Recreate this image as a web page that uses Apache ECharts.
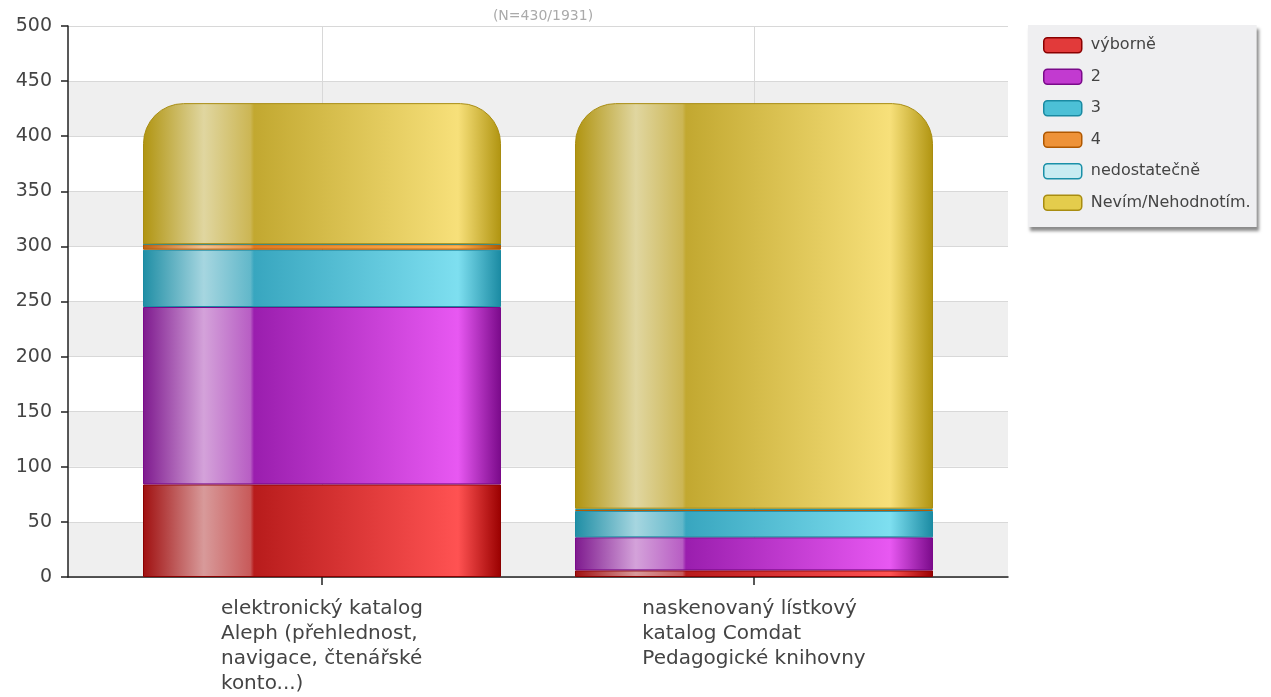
<!DOCTYPE html>
<html>
<head>
<meta charset="utf-8">
<script src="https://cdn.jsdelivr.net/npm/echarts@6/dist/echarts.min.js"></script>
<style>html,body{margin:0;padding:0;background:#fff}#c{width:1271px;height:697px}</style>
</head>
<body>
<div id="c"></div>
<script>
const categories = [
  ['elektronický katalog', 'Aleph (přehlednost,', 'navigace, čtenářské', 'konto...)'],
  ['naskenovaný lístkový', 'katalog Comdat', 'Pedagogické knihovny']
];
const seriesNames = ['výborně', '2', '3', '4', 'nedostatečně', 'Nevím/Nehodnotím.'];
const vyborne = [84, 6];
const dva = [161, 30];
const tri = [52, 24];
const ctyri = [5, 1];
const nedostatecne = [0, 1];
const nevim = [128, 368];
const yTicks = [0, 50, 100, 150, 200, 250, 300, 350, 400, 450, 500];
const subtitle = '(N=430/1931)';

function grad(stops) {
  return { type: 'linear', x: 0, y: 0, x2: 1, y2: 0,
    colorStops: stops.map(s => ({ offset: s[0], color: s[1] })) };
}
const styles = [
  { fill: grad([[0,'#a01010'],[0.17,'#d89a9a'],[0.3,'#c85a5a'],[0.31,'#b81c1c'],[0.88,'#ff5252'],[1,'#9a0000']]), border: '#8a0000', legend: '#e23a3a' },
  { fill: grad([[0,'#7e1a8e'],[0.17,'#d4a2da'],[0.3,'#b85ec4'],[0.31,'#9a1eae'],[0.88,'#e858f2'],[1,'#7a0a8a']]), border: '#7a0a8a', legend: '#c23ad0' },
  { fill: grad([[0,'#1f8ea5'],[0.17,'#a6d6e0'],[0.3,'#62b8ca'],[0.31,'#38a6bf'],[0.88,'#7edff0'],[1,'#1a8aa2']]), border: '#1a8aa2', legend: '#4cc0d6' },
  { fill: grad([[0,'#c06010'],[0.17,'#f0c090'],[0.3,'#e8954a'],[0.31,'#e07820'],[0.88,'#ffb050'],[1,'#b05800']]), border: '#b05800', legend: '#ee9238' },
  { fill: grad([[0,'#1a90a8'],[0.17,'#d8f0f4'],[0.31,'#a8dce8'],[0.88,'#e8fafc'],[1,'#1a90a8']]), border: '#1a90a8', legend: '#c8ecf2' },
  { fill: grad([[0,'#b09410'],[0.17,'#e0d6a0'],[0.3,'#ccb654'],[0.31,'#c2a830'],[0.88,'#f7e07a'],[1,'#b09410']]), border: '#a88c10', legend: '#e4cc4c' }
];
const values = [vyborne, dva, tri, ctyri, nedostatecne, nevim];

const FONT = 'DejaVu Sans';
const chart = echarts.init(document.getElementById('c'), null, { renderer: 'canvas' });
chart.setOption({
  animation: false,
  backgroundColor: '#ffffff',
  title: {
    text: subtitle, left: 538, top: 4, textAlign: 'center',
    textStyle: { fontFamily: FONT, fontSize: 14, fontWeight: 'normal', color: '#aaaaaa' }
  },
  legend: {
    orient: 'vertical', left: 1028, top: 25,
    padding: [12, 6, 16, 15], itemGap: 15, itemWidth: 38, itemHeight: 15,
    icon: 'roundRect',
    backgroundColor: '#efeff1',
    shadowColor: 'rgba(0,0,0,0.45)', shadowBlur: 3, shadowOffsetX: 2, shadowOffsetY: 4,
    textStyle: { fontFamily: FONT, fontSize: 16, lineHeight: 15, color: '#444', padding: [0, 0, 0, 4] },
    data: seriesNames.map((n, i) => ({ name: n, itemStyle: { color: styles[i].legend, borderColor: styles[i].border, borderWidth: 1.5 } }))
  },
  grid: [
    { left: 68, right: 263, top: 26, bottom: 120, containLabel: false },
    { left: 106, right: 301, top: 26, bottom: 120, containLabel: false }
  ],
  xAxis: [
    {
      gridIndex: 0, type: 'value', min: 0, max: 1,
      axisLine: { show: true, onZero: false, lineStyle: { color: '#222', width: 1.5 } },
      axisTick: { show: false }, axisLabel: { show: false }, splitLine: { show: false }
    },
    {
      gridIndex: 1, type: 'category',
      data: categories.map(c => c.join('\n')),
      axisLine: { show: false },
      axisTick: { show: true, alignWithLabel: true, length: 8, lineStyle: { color: '#222', width: 1.5 } },
      splitLine: { show: true, alignWithLabel: true, lineStyle: { color: '#d8d8d8' } },
      axisLabel: {
        margin: 19,
        formatter: v => v.split('\n').map(l => '{a|' + l + '}').join('\n'),
        rich: { a: { fontFamily: FONT, fontSize: 20, color: '#444', lineHeight: 25, align: 'left' } }
      }
    }
  ],
  yAxis: [
    {
      gridIndex: 0, type: 'value', min: 0, max: 500, interval: 50,
      axisLine: { show: true, lineStyle: { color: '#222', width: 1.5 } },
      axisTick: { show: true, length: 7, lineStyle: { color: '#222', width: 1.5 } },
      splitLine: { lineStyle: { color: '#d8d8d8' } },
      splitArea: { show: true, areaStyle: { color: ['#efefef', '#ffffff'] } },
      axisLabel: {
        margin: 16, fontFamily: FONT, fontSize: 19, color: '#444',
        formatter: v => yTicks.includes(v) ? String(v) : ''
      }
    },
    {
      gridIndex: 1, type: 'value', min: 0, max: 500, interval: 50,
      axisLine: { show: false }, axisTick: { show: false }, axisLabel: { show: false },
      splitLine: { show: false }
    }
  ],
  series: seriesNames.map((n, i) => ({
    name: n, type: 'bar', stack: 'total', barWidth: 358,
    xAxisIndex: 1, yAxisIndex: 1,
    data: values[i],
    itemStyle: {
      color: styles[i].fill, borderColor: styles[i].border, borderWidth: 1,
      borderRadius: i === 5 ? [40, 40, 0, 0] : 0
    },
    emphasis: { disabled: true }
  }))
});
</script>
</body>
</html>
